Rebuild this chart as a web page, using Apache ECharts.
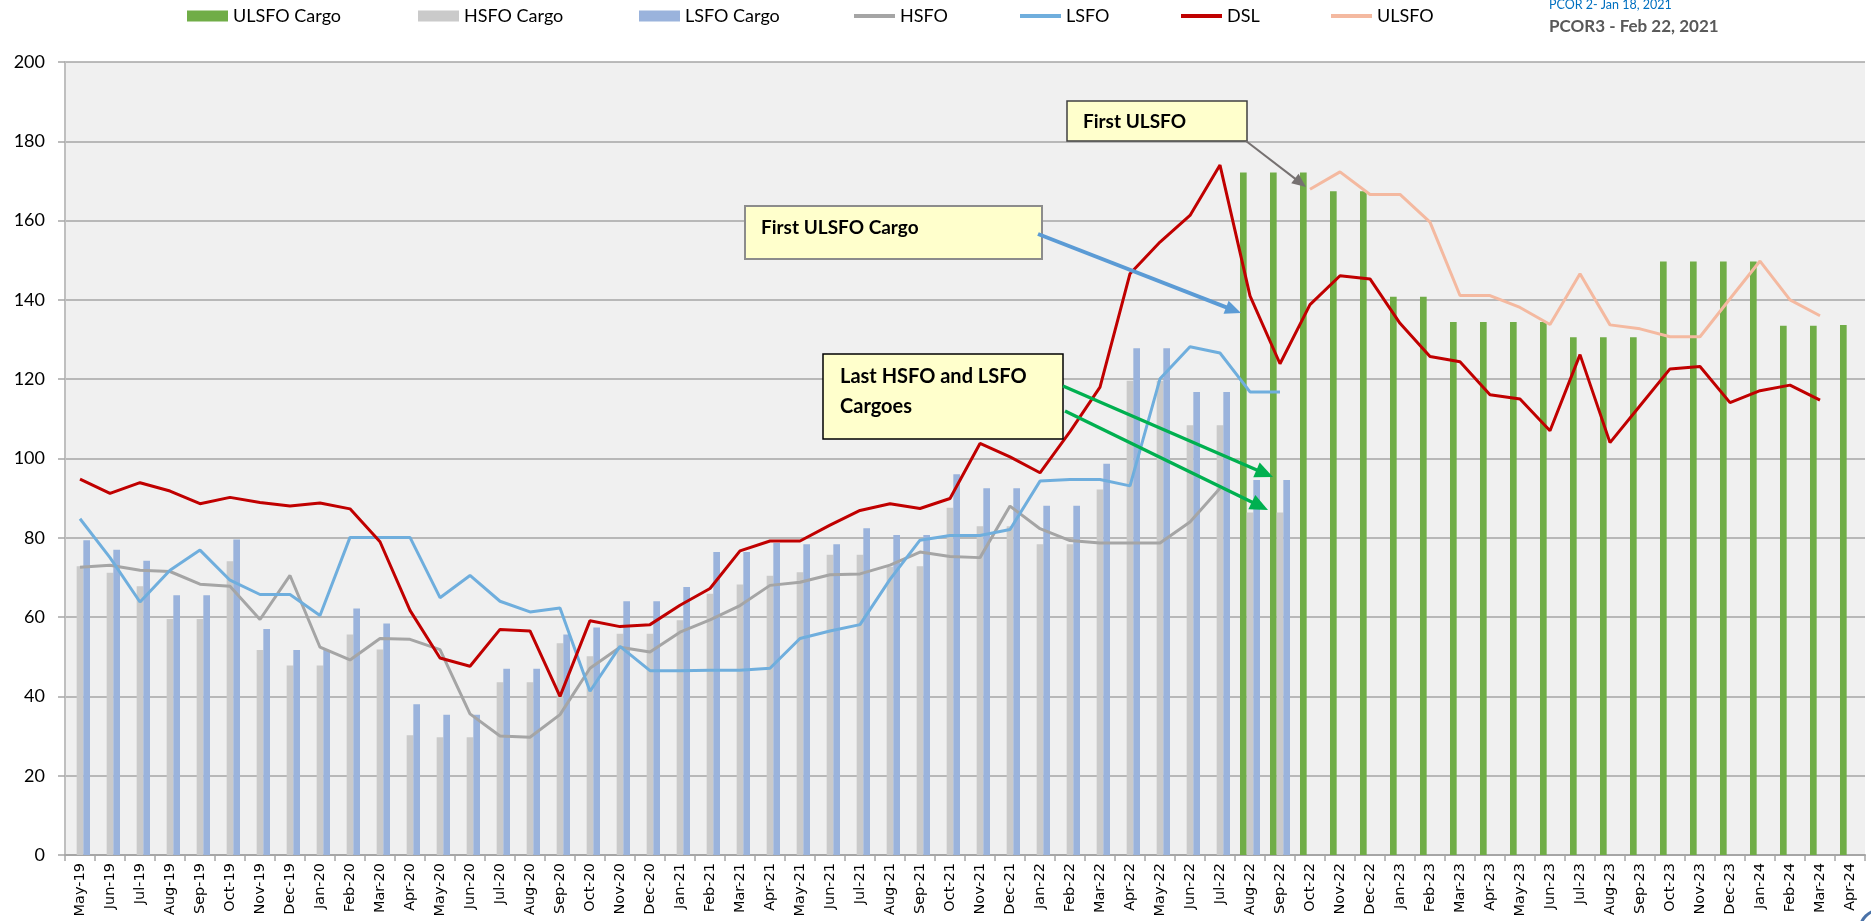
<!DOCTYPE html>
<html><head><meta charset="utf-8">
<script src="https://cdn.jsdelivr.net/npm/echarts@6/dist/echarts.min.js"></script>
<style>html,body{margin:0;padding:0;background:#fff}#c{width:1871px;height:921px}</style>
</head><body><div id="c"></div>
<script>
const categories = ['May-19','Jun-19','Jul-19','Aug-19','Sep-19','Oct-19','Nov-19','Dec-19','Jan-20','Feb-20','Mar-20','Apr-20','May-20','Jun-20','Jul-20','Aug-20','Sep-20','Oct-20','Nov-20','Dec-20','Jan-21','Feb-21','Mar-21','Apr-21','May-21','Jun-21','Jul-21','Aug-21','Sep-21','Oct-21','Nov-21','Dec-21','Jan-22','Feb-22','Mar-22','Apr-22','May-22','Jun-22','Jul-22','Aug-22','Sep-22','Oct-22','Nov-22','Dec-22','Jan-23','Feb-23','Mar-23','Apr-23','May-23','Jun-23','Jul-23','Aug-23','Sep-23','Oct-23','Nov-23','Dec-23','Jan-24','Feb-24','Mar-24','Apr-24'];

// Bars (start index in categories, then values)
const ulsfoCargoStart = 39;
const ulsfoCargo = [172.1,172.1,172.1,167.4,167.4,140.8,140.8,134.4,134.4,134.4,134.4,130.6,130.6,130.6,149.7,149.7,149.7,149.7,133.5,133.5,133.7];
const hsfoCargoStart = 0;
const hsfoCargo = [72.8,71.2,67.8,59.5,59.5,74.1,51.7,47.8,47.8,55.6,51.8,30.2,29.7,29.7,43.6,43.6,53.4,50.1,55.8,55.8,59.2,65.9,68.2,70.4,71.3,75.7,75.7,72.7,72.8,87.6,82.9,82.9,78.4,78.4,92.2,119.6,119.6,108.4,108.4,86.4,86.4];
const lsfoCargoStart = 0;
const lsfoCargo = [79.4,77.0,74.2,65.5,65.5,79.6,57.0,51.7,51.7,62.2,58.4,38.0,35.4,35.4,47.0,47.0,55.6,57.4,64.0,64.0,67.6,76.4,76.4,78.7,78.4,78.4,82.4,80.7,80.7,96.0,92.5,92.5,88.1,88.1,98.7,127.8,127.8,116.8,116.8,94.6,94.6];

// Lines
const hsfoStart = 0;
const hsfo = [72.6,73.1,71.8,71.5,68.3,67.8,59.4,70.5,52.4,49.2,54.6,54.4,51.8,35.6,30.0,29.7,35.4,47.1,52.4,51.2,56.2,59.3,62.9,68.0,68.8,70.7,70.9,73.1,76.4,75.3,75.0,88.0,82.3,79.3,78.7,78.7,78.7,84.0,92.5];
const lsfoStart = 0;
const lsfo = [84.8,75.0,63.8,71.8,76.9,69.3,65.7,65.7,60.4,80.1,80.1,80.1,64.9,70.5,64.0,61.3,62.3,41.3,52.6,46.5,46.5,46.6,46.6,47.1,54.6,56.5,58.1,69.5,79.4,80.6,80.6,82.1,94.3,94.7,94.7,93.1,120.1,128.2,126.6,116.8,116.8];
const dslStart = 0;
const dsl = [94.8,91.2,93.9,91.8,88.6,90.2,88.9,88.0,88.8,87.3,79.0,61.7,49.7,47.6,56.9,56.5,40.0,59.1,57.6,58.1,63.0,67.2,76.7,79.2,79.2,83.2,86.9,88.6,87.4,89.9,103.8,100.4,96.4,106.8,118.0,146.6,154.6,161.3,174.0,141.0,123.9,138.8,146.1,145.3,134.1,125.7,124.4,116.1,115.0,107.0,126.2,104.0,113.3,122.6,123.2,114.1,117.1,118.5,114.7];
const ulsfoStart = 41;
const ulsfo = [167.9,172.3,166.6,166.6,159.6,141.1,141.1,138.1,133.8,146.6,133.7,132.7,130.7,130.7,140.3,149.8,140.0,136.0];

const yMin = 0, yMax = 200, yInterval = 20;

function place(start, vals){
  const a = new Array(categories.length).fill(null);
  vals.forEach((v,k)=>{ a[start+k] = v; });
  return a;
}

const FONT = 'Lato, "Liberation Sans", sans-serif';
const chart = echarts.init(document.getElementById('c'), null, {renderer:'canvas'});

function legendItem(name, left, h){
  return { data:[name], left:left, top:7, orient:'horizontal', icon:'rect',
    itemWidth:41, itemHeight:h, padding:0,
    textStyle:{fontFamily:FONT, fontSize:18, color:'#000'} };
}

function arrow(x1,y1,x2,y2,color,w,hl,hw){
  const dx=x2-x1, dy=y2-y1, L=Math.sqrt(dx*dx+dy*dy), ux=dx/L, uy=dy/L;
  const bx=x2-ux*hl, by=y2-uy*hl, px=-uy, py=ux;
  return [
    {type:'line', shape:{x1:x1,y1:y1,x2:bx+ux*1,y2:by+uy*1}, style:{stroke:color, lineWidth:w}, z:100},
    {type:'polygon', shape:{points:[[x2,y2],[bx+px*hw,by+py*hw],[bx-px*hw,by-py*hw]]}, style:{fill:color}, z:100}
  ];
}

function box(x,y,w,h,stroke,sw){
  return {type:'rect', shape:{x:x,y:y,width:w,height:h}, style:{fill:'#FFFFCC', stroke:stroke, lineWidth:sw}, z:99};
}
function label(x,y,text,size){
  return {type:'text', x:x, y:y, style:{text:text, fill:'#000', font:'bold '+size+'px '+FONT, textVerticalAlign:'middle', textAlign:'left'}, z:101};
}

const graphics = [
  {type:'text', x:1549, y:5, style:{text:'PCOR 2- Jan 18, 2021', fill:'#0070C0', font:'12.5px '+FONT, textVerticalAlign:'middle'}},
  {type:'text', x:1549, y:27, style:{text:'PCOR3 - Feb 22, 2021', fill:'#595959', font:'bold 17px '+FONT, textVerticalAlign:'middle'}},
  box(1067,101,180,40,'#404040',1.5),
  label(1083,122,'First ULSFO',19),
  box(745,206,297,53,'#8C8C8C',2),
  label(761,228,'First ULSFO Cargo',19),
  box(823,354,240,85,'#000000',1.5),
  label(840,377,'Last HSFO and LSFO',20),
  label(840,407,'Cargoes',20),
  ...arrow(1246,141,1306,187,'#767171',2,14,6),
  ...arrow(1038,234,1241,313,'#5B9BD5',4,16,7),
  ...arrow(1063,386,1273,477,'#00B050',3.5,18,8),
  ...arrow(1065,411,1268,510,'#00B050',3.5,18,8),
  {type:'circle', shape:{cx:1880, cy:930, r:20}, style:{fill:'none', stroke:'#4A72A8', lineWidth:3}}
];

const barW = 6.67;
chart.setOption({
  animation:false,
  backgroundColor:'#ffffff',
  legend:[
    legendItem('ULSFO Cargo',187,11),
    legendItem('HSFO Cargo',418,11),
    legendItem('LSFO Cargo',639,11),
    legendItem('HSFO',854,4),
    legendItem('LSFO',1020,4),
    legendItem('DSL',1181,4),
    legendItem('ULSFO',1331,4)
  ],
  grid:{left:65, right:6, top:62, bottom:66, show:true, backgroundColor:'#F0F0F0', borderWidth:0},
  xAxis:{type:'category', data:categories, boundaryGap:true,
    axisLine:{show:true, lineStyle:{color:'#A6A6A6', width:2}},
    axisTick:{show:true, length:6, lineStyle:{color:'#A6A6A6', width:1.5}},
    axisLabel:{interval:0, rotate:90, margin:8, color:'#000', fontFamily:'DejaVu Sans', fontSize:14.5},
    splitLine:{show:false}},
  yAxis:{type:'value', min:yMin, max:yMax, interval:yInterval,
    axisLine:{show:true, lineStyle:{color:'#BFBFBF', width:2}},
    axisTick:{show:true, length:7, lineStyle:{color:'#A6A6A6', width:1.5}},
    axisLabel:{color:'#000', fontFamily:FONT, fontSize:18, margin:20},
    splitLine:{show:true, lineStyle:{color:'#A6A6A6', width:1.5}}},
  graphic:graphics,
  series:[
    {name:'ULSFO Cargo', type:'bar', data:place(ulsfoCargoStart, ulsfoCargo), barWidth:barW, barGap:'0%', itemStyle:{color:'#70AD47'}},
    {name:'HSFO Cargo', type:'bar', data:place(hsfoCargoStart, hsfoCargo), barWidth:barW, barGap:'0%', itemStyle:{color:'#CACACA'}},
    {name:'LSFO Cargo', type:'bar', data:place(lsfoCargoStart, lsfoCargo), barWidth:barW, barGap:'0%', itemStyle:{color:'#9AB3DC'}},
    {name:'HSFO', type:'line', data:place(hsfoStart, hsfo), symbol:'none', connectNulls:false, itemStyle:{color:'#A5A5A5'}, lineStyle:{color:'#A5A5A5', width:3}},
    {name:'LSFO', type:'line', data:place(lsfoStart, lsfo), symbol:'none', connectNulls:false, itemStyle:{color:'#6FAEDD'}, lineStyle:{color:'#6FAEDD', width:3}},
    {name:'DSL', type:'line', data:place(dslStart, dsl), symbol:'none', connectNulls:false, itemStyle:{color:'#C00000'}, lineStyle:{color:'#C00000', width:3}},
    {name:'ULSFO', type:'line', data:place(ulsfoStart, ulsfo), symbol:'none', connectNulls:false, itemStyle:{color:'#F4B9A0'}, lineStyle:{color:'#F4B9A0', width:3}}
  ]
});
</script></body></html>
